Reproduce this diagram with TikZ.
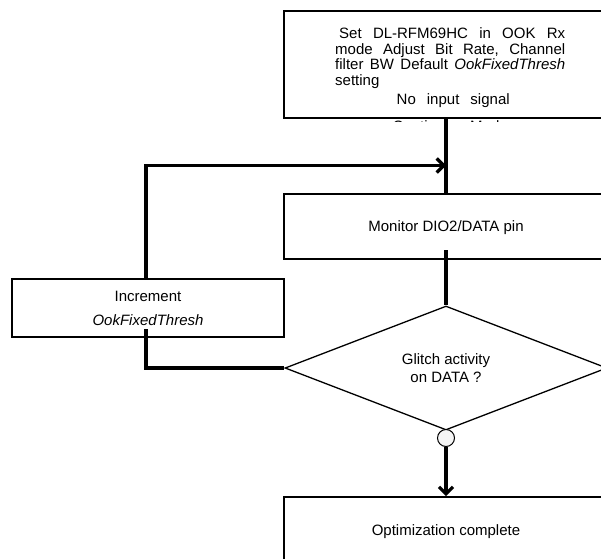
\documentclass[tikz,border=0pt]{standalone}
\usepackage{fontspec}
\setmainfont{Liberation Sans}
\usepackage{tikz}
\usetikzlibrary{shapes.geometric, arrows.meta}

\begin{document}
\begin{tikzpicture}[x=1pt, y=-1pt,
        procbox/.style={draw, line width=1.6pt, fill=white, minimum width=324pt, inner sep=0pt, text depth=0pt},
        flowline/.style={line width=3.3pt},
        flowarrow/.style={flowline, -{Straight Barb[length=7pt, width=14pt]}},
        font=\fontsize{15}{18}\selectfont]
    \useasboundingbox (0,0) rectangle (601,558);
    \clip (0,0) rectangle (601,558);

    % process boxes
    \node[procbox, minimum height=107pt] (setup) at (446,64.5) {};
    \begin{scope}
        \clip (setup.north west) rectangle ([yshift=-2.5pt]setup.south east);
        \node[text width=230pt, align=left, anchor=base west, inner sep=0pt,
            font=\fontsize{15}{15.7}\selectfont] (setuptext) at (335,38.5) {%
            \makebox[230pt]{\hspace*{4pt}Set\hfill DL-RFM69HC\hfill in\hfill OOK\hfill Rx}\\
            \makebox[230pt]{mode\hfill Adjust\hfill Bit\hfill Rate,\hfill Channel}\\
            \makebox[230pt]{filter\hfill BW\hfill Default\hfill \textit{OokFixedThresh}}\\
            setting\\[3.3pt]
            \makebox[236pt]{\makebox[113pt]{No\hfill input\hfill signal}}\\[10.8pt]
            \makebox[230pt]{\makebox[115pt]{Continuous\hfill Mode}}};
    \end{scope}
    \node[procbox, minimum height=65pt] (monitor) at (446,226.5) {Monitor DIO2/DATA pin};
    \node[procbox, minimum width=272pt, minimum height=58pt, align=center] (incr) at (148,308)
        {Increment\\[6pt]\textit{OokFixedThresh}};
    \node[draw, diamond, line width=1.3pt, fill=white, minimum width=322pt, minimum height=124pt,
        inner sep=0pt, align=center] (glitch) at (446,368) {Glitch activity\\on DATA ?};
    \node[circle, draw, line width=1pt, fill=gray!8, minimum size=17pt, inner sep=0pt] (yesdot) at (446,438) {};
    \node[procbox, minimum height=66pt] (done) at (446,530) {Optimization complete};

    % connectors
    \coordinate (merge) at (446,165.5);
    \coordinate (monout) at (446,250);
    \coordinate (incrout) at (146,329);
    \draw[flowline] (setup.south) -- (monitor.north);
    \draw[flowarrow] (incrout |- incr.north) |- (merge);
    \draw[flowline] (monout) -- (glitch.north);
    \draw[flowline] (incrout) |- (glitch.west);
    \draw[flowarrow] (yesdot.south) -- (done.north);
\end{tikzpicture}
\end{document}
